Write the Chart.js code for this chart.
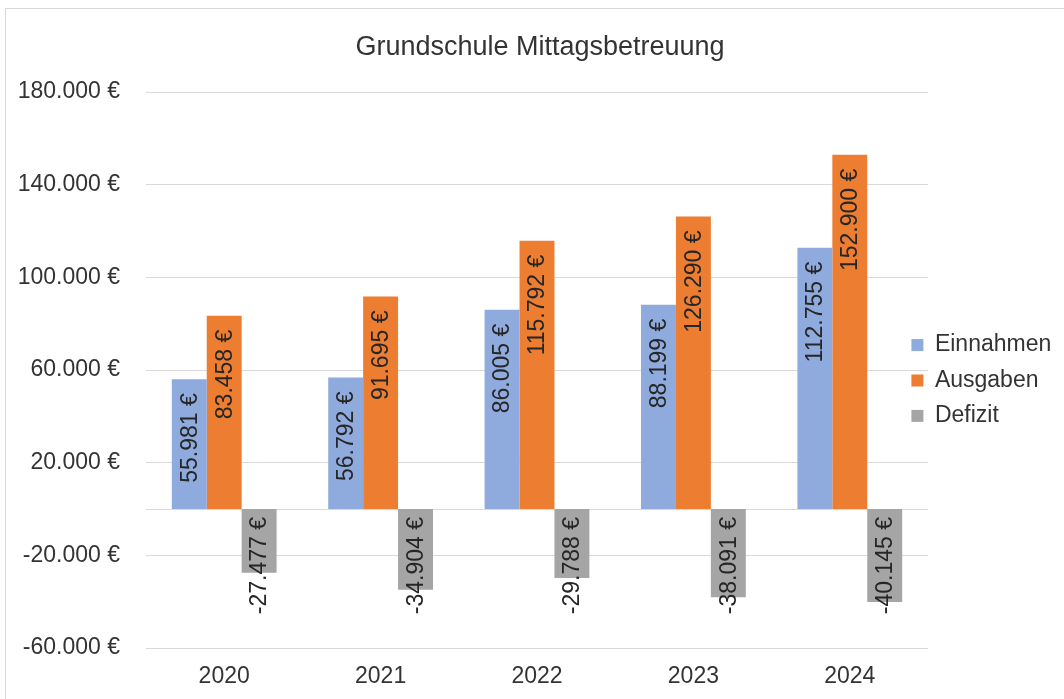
<!DOCTYPE html>
<html>
<head>
<meta charset="utf-8">
<script src="https://cdn.jsdelivr.net/npm/chart.js@4/dist/chart.umd.min.js"></script>
<style>
  html, body { margin: 0; padding: 0; background: #fff; overflow: hidden; }
  #frame { position: absolute; left: 5px; top: 8px; width: 1200px; height: 800px; border: 1px solid #d9d9d9; }
  #c { position: absolute; left: 0; top: 0; }
</style>
</head>
<body>
<div id="frame"></div>
<canvas id="c" width="1064" height="699"></canvas>
<script>
const title = 'Grundschule Mittagsbetreuung';
const categories = ['2020', '2021', '2022', '2023', '2024'];
const einnahmen = [55981, 56792, 86005, 88199, 112755];
const ausgaben = [83458, 91695, 115792, 126290, 152900];
const defizit = [-27477, -34904, -29788, -38091, -40145];
const seriesNames = ['Einnahmen', 'Ausgaben', 'Defizit'];
const yMin = -60000, yMax = 180000, yStep = 40000;

const FONT = '"Liberation Sans", Arial, sans-serif';
function fmt(v) {
  const neg = v < 0;
  const s = String(Math.abs(Math.round(v))).replace(/\B(?=(\d{3})+(?!\d))/g, '.');
  return (neg ? '-' : '') + s + ' €';
}

const zeroLine = {
  id: 'zeroLine',
  beforeDatasetsDraw(chart) {
    const y = chart.scales.y.getPixelForValue(0);
    const a = chart.chartArea;
    const ctx = chart.ctx;
    ctx.save();
    ctx.strokeStyle = '#d9d9d9';
    ctx.lineWidth = 1;
    ctx.beginPath();
    ctx.moveTo(a.left, Math.round(y) + 0.5);
    ctx.lineTo(a.right, Math.round(y) + 0.5);
    ctx.stroke();
    ctx.restore();
  }
};

const barLabels = {
  id: 'barLabels',
  afterDatasetsDraw(chart) {
    const ctx = chart.ctx;
    ctx.save();
    ctx.font = '23px ' + FONT;
    ctx.fillStyle = '#262626';
    ctx.textAlign = 'right';
    ctx.textBaseline = 'middle';
    chart.data.datasets.forEach((ds, i) => {
      const meta = chart.getDatasetMeta(i);
      meta.data.forEach((bar, j) => {
        const v = ds.data[j];
        const top = Math.min(bar.y, bar.base);
        const pad = v >= 0 ? 14 : 8;
        ctx.save();
        ctx.translate(bar.x, top + pad);
        ctx.rotate(-Math.PI / 2);
        ctx.fillText(fmt(v), 0, 1);
        ctx.restore();
      });
    });
    ctx.restore();
  }
};

const legendPlace = {
  id: 'legendPlace',
  afterInit(chart) {
    const lg = chart.legend;
    const orig = lg.fit.bind(lg);
    lg.fit = function () { orig(); this.width = 136; };
  },
  afterLayout(chart) {
    const lg = chart.legend;
    lg.left = 899; lg.right = 1064; lg.width = 165;
    lg.top += 31; lg.bottom += 31;
    const tb = chart.titleBlock;
    if (tb) { tb.left += 16; tb.width = tb.right - tb.left; }
  }
};

new Chart(document.getElementById('c'), {
  type: 'bar',
  data: {
    labels: categories,
    datasets: [
      { label: seriesNames[0], data: einnahmen, backgroundColor: '#8faadc' },
      { label: seriesNames[1], data: ausgaben, backgroundColor: '#ed7d31' },
      { label: seriesNames[2], data: defizit, backgroundColor: '#a5a5a5' }
    ]
  },
  options: {
    responsive: false,
    animation: false,
    devicePixelRatio: 1,
    categoryPercentage: 0.67,
    barPercentage: 1.0,
    layout: { padding: { left: 0, right: 0, top: 0, bottom: 0 } },
    plugins: {
      title: {
        display: true,
        text: title,
        color: '#333',
        font: { family: FONT, size: 27, weight: 'normal' },
        padding: { top: 31, bottom: 28.6 }
      },
      legend: {
        display: true,
        position: 'right',
        labels: {
          color: '#333',
          font: { family: FONT, size: 23 },
          boxWidth: 12,
          boxHeight: 12,
          padding: 12.4
        }
      },
      tooltip: { enabled: false }
    },
    scales: {
      x: {
        grid: { display: false, drawTicks: false },
        border: { display: false },
        ticks: { color: '#333', font: { family: FONT, size: 23 }, padding: 15 },
        afterFit(s) { s.height = 51; }
      },
      y: {
        min: yMin, max: yMax,
        ticks: {
          stepSize: yStep,
          color: '#333',
          font: { family: FONT, size: 23 },
          padding: 26,
          callback: (v) => fmt(v)
        },
        grid: { color: '#d9d9d9', lineWidth: 1, drawTicks: false },
        border: { display: false },
        afterFit(s) { s.width = 146; }
      }
    }
  },
  plugins: [zeroLine, barLabels, legendPlace]
});
</script>
</body>
</html>
